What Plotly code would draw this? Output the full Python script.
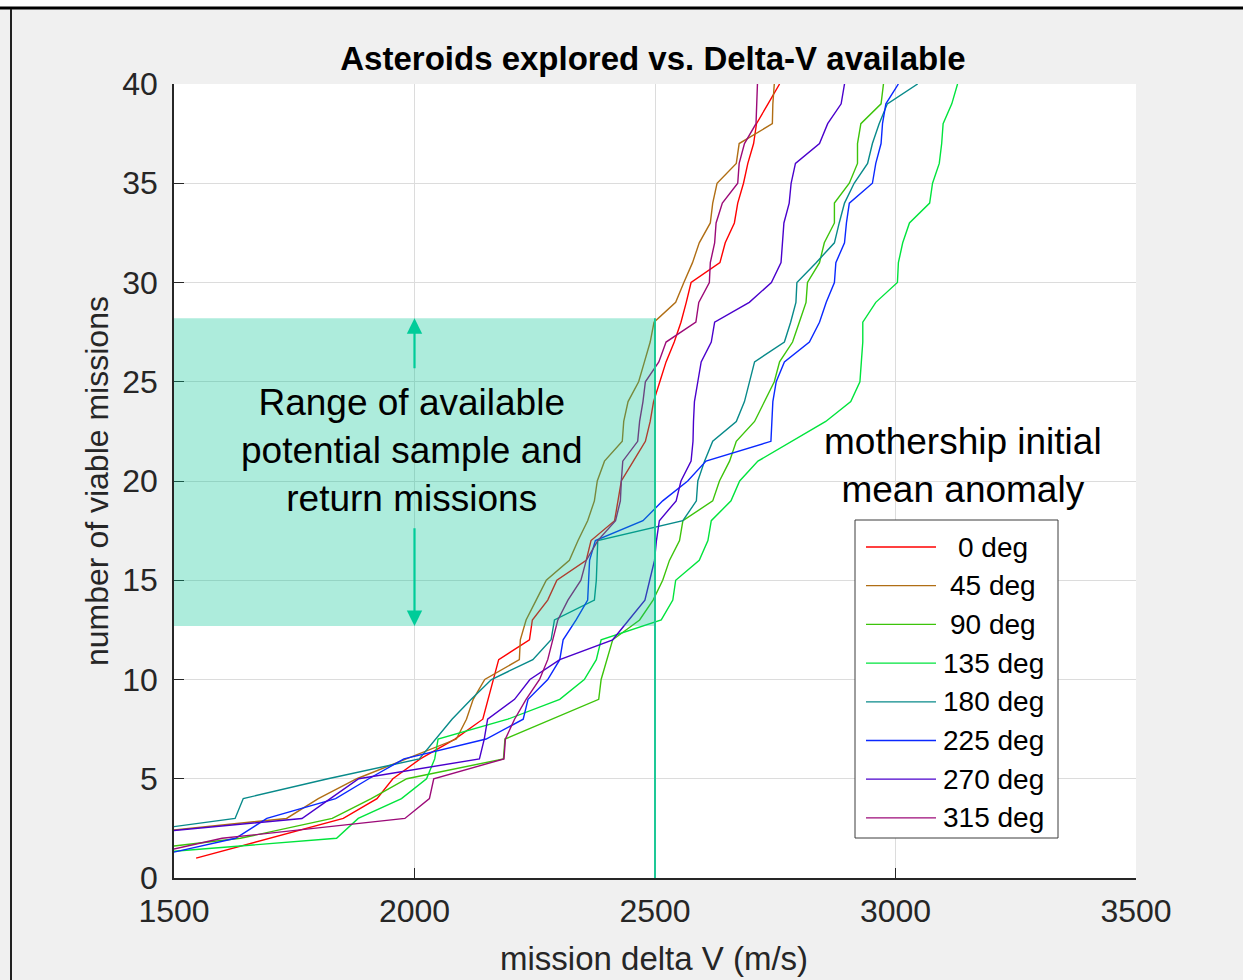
import plotly.graph_objects as go

# ---- data: mission delta-V (m/s) at which the n-th viable mission becomes available ----
labels = ["0 deg", "45 deg", "90 deg", "135 deg", "180 deg", "225 deg", "270 deg", "315 deg"]
colors = ["#ff0000", "#b06e14", "#3cc40a", "#00e43c", "#088a8a", "#0a28ff", "#4a00cc", "#9c0a78"]

dv_0 = [1546, 1700, 1852, 1922, 1955, 2012, 2084, 2142, 2153, 2165, 2175, 2239, 2245, 2277, 2296, 2357,
        2367, 2416, 2423, 2430, 2455, 2480, 2490, 2497, 2510, 2523, 2540, 2554, 2565, 2575, 2635, 2646,
        2665, 2672, 2684, 2693, 2705, 2711, 2735, 2759]
n_0 = list(range(1, 41))

dv_45 = [1330, 1734, 1800, 1880, 1983, 2087, 2108, 2122, 2146, 2218, 2220, 2232, 2253, 2274, 2322, 2340,
         2360, 2374, 2380, 2395, 2432, 2435, 2444, 2466, 2478, 2490, 2498, 2543, 2560, 2578, 2592, 2615,
         2620, 2629, 2669, 2675, 2744, 2745, 2748]
n_45 = list(range(2, 41))

dv_90 = [1283, 1638, 1829, 1910, 1984, 2185, 2188, 2285, 2383, 2388, 2400, 2412, 2468, 2496, 2516, 2530,
         2551, 2558, 2620, 2634, 2655, 2669, 2707, 2727, 2748, 2759, 2786, 2800, 2814, 2817, 2842, 2852,
         2873, 2873, 2904, 2921, 2921, 2928, 2970, 2975]
n_90 = list(range(1, 41))

dv_135 = [1318, 1838, 1883, 1973, 2025, 2042, 2049, 2194, 2302, 2353, 2378, 2388, 2513, 2537, 2543, 2592,
          2610, 2617, 2658, 2676, 2714, 2786, 2855, 2907, 2926, 2929, 2932, 2932, 2959, 3004, 3006, 3015,
          3029, 3071, 3077, 3091, 3096, 3099, 3117, 3129]
n_135 = list(range(1, 41))

dv_180 = [1320, 1627, 1644, 1820, 2010, 2044, 2078, 2118, 2160, 2246, 2284, 2291, 2374, 2378, 2380, 2381,
          2558, 2586, 2589, 2603, 2620, 2669, 2686, 2696, 2707, 2769, 2782, 2793, 2795, 2835, 2873, 2883,
          2894, 2914, 2942, 2952, 2966, 2983, 3046]
n_180 = list(range(2, 41))

dv_225 = [1444, 1628, 1693, 1836, 1905, 1978, 2149, 2226, 2236, 2277, 2302, 2309, 2336, 2360, 2362, 2364,
          2376, 2475, 2516, 2568, 2606, 2741, 2743, 2745, 2752, 2769, 2821, 2842, 2856, 2873, 2876, 2894,
          2898, 2904, 2952, 2959, 2970, 2973, 2980, 3006]
n_225 = list(range(1, 41))

dv_270 = [1328, 1766, 1825, 1884, 2135, 2145, 2152, 2208, 2240, 2302, 2412, 2445, 2479, 2489, 2499, 2503,
          2509, 2544, 2554, 2575, 2579, 2580, 2582, 2589, 2596, 2617, 2624, 2696, 2742, 2762, 2765, 2768,
          2779, 2783, 2792, 2842, 2859, 2887, 2894]
n_270 = list(range(2, 41))

dv_315 = [1414, 1600, 1980, 2031, 2040, 2186, 2189, 2208, 2232, 2260, 2277, 2288, 2298, 2319, 2346, 2357,
          2381, 2418, 2428, 2430, 2433, 2464, 2468, 2475, 2480, 2508, 2523, 2585, 2591, 2613, 2615, 2624,
          2627, 2640, 2672, 2675, 2686, 2710, 2711, 2713]
n_315 = list(range(1, 41))

series_x = [dv_0, dv_45, dv_90, dv_135, dv_180, dv_225, dv_270, dv_315]
series_y = [n_0, n_45, n_90, n_135, n_180, n_225, n_270, n_315]

x_ticks = [1500, 2000, 2500, 3000, 3500]
y_ticks = [0, 5, 10, 15, 20, 25, 30, 35, 40]

# band of viable sample-and-return missions and the delta-V budget line
band_dv = [1500, 2500]
band_n = [12.7, 28.2]
budget_dv = 2500

# ---- page geometry (pixels) ----
W, H = 1243, 980
L, R, T, B = 174, 1136, 84, 878


def px_x(px):
    return (px - L) / (R - L)


def px_y(py):
    return (B - py) / (B - T)


FONT = "Liberation Sans, Arial, Helvetica, sans-serif"
INK = "#262626"

fig = go.Figure()
for xs, ys, name, col in zip(series_x, series_y, labels, colors):
    fig.add_trace(go.Scatter(x=xs, y=ys, mode="lines", name=name,
                             line=dict(color=col, width=1.4), showlegend=False))

shapes = []
# shaded band and budget line
shapes.append(dict(type="rect", xref="x", yref="y", x0=band_dv[0], x1=band_dv[1],
                   y0=band_n[0], y1=band_n[1], fillcolor="rgba(0,196,146,0.32)",
                   line=dict(width=0), layer="above"))
shapes.append(dict(type="line", xref="x", yref="y", x0=budget_dv, x1=budget_dv,
                   y0=0, y1=band_n[1], line=dict(color="#1ec896", width=2), layer="above"))

# window frame
shapes.append(dict(type="rect", xref="paper", yref="paper", x0=px_x(0), x1=px_x(W),
                   y0=px_y(7), y1=px_y(0), fillcolor="white", line=dict(width=0), layer="below"))
shapes.append(dict(type="line", xref="paper", yref="paper", x0=px_x(0), x1=px_x(W),
                   y0=px_y(8), y1=px_y(8), line=dict(color="black", width=3)))
shapes.append(dict(type="line", xref="paper", yref="paper", x0=px_x(11), x1=px_x(11),
                   y0=px_y(9), y1=px_y(W), line=dict(color="#202020", width=2)))

# legend box
lg_x0, lg_x1, lg_y0, lg_y1 = 855, 1058, 520, 838
shapes.append(dict(type="rect", xref="paper", yref="paper", x0=px_x(lg_x0), x1=px_x(lg_x1),
                   y0=px_y(lg_y1), y1=px_y(lg_y0), fillcolor="white",
                   line=dict(color="#3c3c3c", width=1), layer="above"))

annotations = []
row0, row_step = 547, 38.7
for i, (name, col) in enumerate(zip(labels, colors)):
    yy = row0 + i * row_step
    shapes.append(dict(type="line", xref="paper", yref="paper", x0=px_x(866), x1=px_x(936),
                       y0=px_y(yy), y1=px_y(yy), line=dict(color=col, width=1.3), layer="above"))
    annotations.append(dict(xref="paper", yref="paper", x=px_x(993), y=px_y(yy), text=name,
                            showarrow=False, xanchor="center", yanchor="middle",
                            font=dict(family=FONT, size=28, color="black")))

# band arrows
annotations.append(dict(x=2000, y=band_n[1], ax=2000, ay=25.6, xref="x", yref="y",
                        axref="x", ayref="y", showarrow=True, arrowhead=2, arrowsize=1.4,
                        arrowwidth=2.2, arrowcolor="#00cc99", text=""))
annotations.append(dict(x=2000, y=band_n[0], ax=2000, ay=17.7, xref="x", yref="y",
                        axref="x", ayref="y", showarrow=True, arrowhead=2, arrowsize=1.4,
                        arrowwidth=2.2, arrowcolor="#00cc99", text=""))

annotations.append(dict(x=px_x(411), y=px_y(450), xref="paper", yref="paper",
                        text="Range of available<br>potential sample and<br>return missions",
                        showarrow=False, xanchor="center", yanchor="middle",
                        font=dict(family=FONT, size=37, color="black")))
annotations.append(dict(x=px_x(963), y=px_y(466), xref="paper", yref="paper",
                        text="mothership initial<br>mean anomaly",
                        showarrow=False, xanchor="center", yanchor="middle",
                        font=dict(family=FONT, size=37, color="black")))

# axis titles
annotations.append(dict(x=px_x(654), y=px_y(958), xref="paper", yref="paper",
                        text="mission delta V (m/s)", showarrow=False,
                        xanchor="center", yanchor="middle",
                        font=dict(family=FONT, size=33, color=INK)))
annotations.append(dict(x=px_x(97), y=px_y(481), xref="paper", yref="paper",
                        text="number of viable missions", showarrow=False, textangle=-90,
                        xanchor="center", yanchor="middle",
                        font=dict(family=FONT, size=32, color=INK)))

fig.update_layout(
    width=W, height=H,
    margin=dict(l=L, r=W - R, t=T, b=H - B),
    paper_bgcolor="#f0f0f0",
    plot_bgcolor="white",
    title=dict(text="<b>Asteroids explored vs. Delta-V available</b>",
               x=653 / W, xanchor="center",
               y=1 - 58 / H, yanchor="middle",
               font=dict(family=FONT, size=33, color="black")),
    shapes=shapes,
    annotations=annotations,
    showlegend=False,
)
fig.update_xaxes(range=[1500, 3500], tickvals=x_ticks, ticks="inside", ticklen=10,
                 tickcolor=INK, showline=True, linecolor=INK, linewidth=1.5,
                 showgrid=True, gridcolor="#dcdcdc", gridwidth=1, zeroline=False,
                 ticklabelstandoff=4,
                 tickfont=dict(family=FONT, size=32, color=INK))
fig.update_yaxes(range=[0, 40], tickvals=y_ticks, ticks="inside", ticklen=10,
                 tickcolor=INK, showline=True, linecolor=INK, linewidth=1.5,
                 showgrid=True, gridcolor="#dcdcdc", gridwidth=1, zeroline=False,
                 ticklabelstandoff=8,
                 tickfont=dict(family=FONT, size=32, color=INK))

fig.write_html("out.html")
